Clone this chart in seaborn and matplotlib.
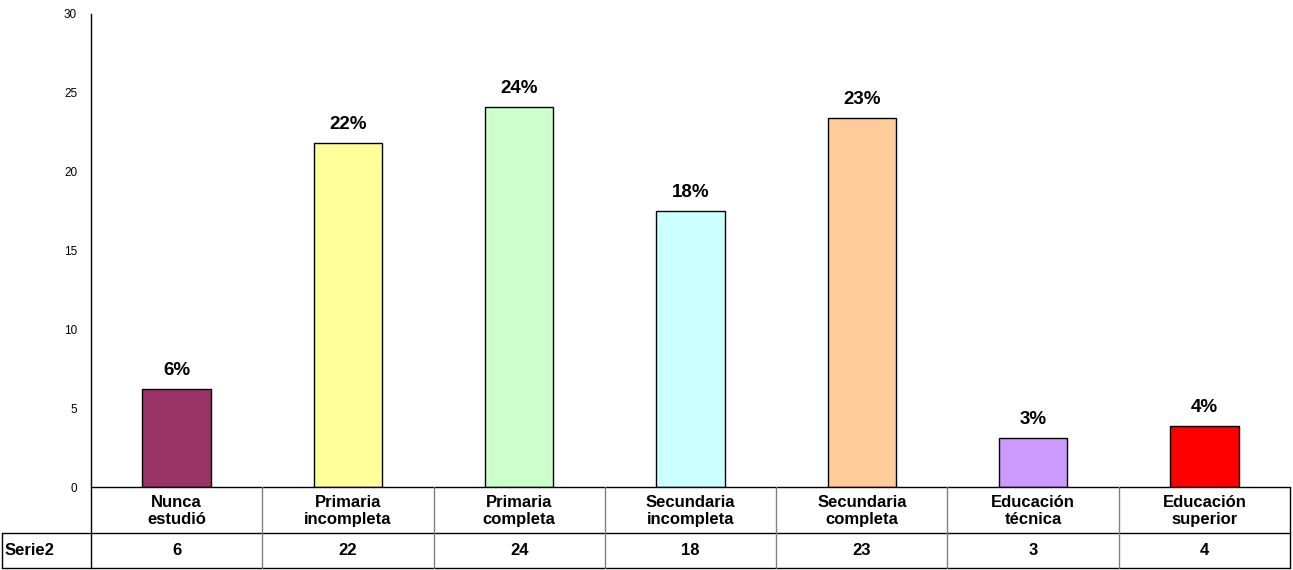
import matplotlib
matplotlib.use("Agg")
import matplotlib.pyplot as plt
import seaborn as sns
import pandas as pd
from matplotlib.lines import Line2D

categories = ["Nunca\nestudió", "Primaria\nincompleta", "Primaria\ncompleta",
              "Secundaria\nincompleta", "Secundaria\ncompleta",
              "Educación\ntécnica", "Educación\nsuperior"]
values = [6.2, 21.8, 24.1, 17.5, 23.4, 3.1, 3.9]
pct_labels = ["6%", "22%", "24%", "18%", "23%", "3%", "4%"]
table_values = ["6", "22", "24", "18", "23", "3", "4"]
series_name = "Serie2"
colors = ["#993366", "#FFFF99", "#CCFFCC", "#CCFFFF", "#FFCC99", "#CC99FF", "#FF0000"]
yticks = [0, 5, 10, 15, 20, 25, 30]

sns.set_style("white")
plt.rcParams['font.family'] = ['Liberation Sans', 'DejaVu Sans']
plt.rcParams['text.color'] = 'black'
plt.rcParams['ytick.color'] = 'black'

W, H = 1293, 570
fig = plt.figure(figsize=(W / 100, H / 100), dpi=100)
left, right, bottom, top = 91, 1290, 487, 14
ax = fig.add_axes([left / W, (H - bottom) / H, (right - left) / W, (bottom - top) / H])

df = pd.DataFrame({"cat": categories, "val": values})
sns.barplot(data=df, x="cat", y="val", hue="cat", palette=colors, legend=False,
            width=0.4, edgecolor="black", linewidth=1.0, ax=ax, saturation=1)

ax.set_xlim(-0.5, len(categories) - 0.5)
ax.set_ylim(0, 30)
ax.set_yticks(yticks)
ax.set_yticklabels([str(t) for t in yticks], fontsize=8.5)
ax.set_xticks([])
ax.set_xlabel("")
ax.set_ylabel("")
for s in ["top", "right", "bottom"]:
    ax.spines[s].set_visible(False)
ax.spines["left"].set_linewidth(1.0)
ax.spines["left"].set_color("black")
ax.tick_params(axis="y", direction="out", length=4, width=1, color="black",
               labelcolor="black", pad=6)

for i, (v, lab) in enumerate(zip(values, pct_labels)):
    ax.annotate(lab, (i, v), xytext=(0, 10), textcoords="offset points",
                ha="center", va="baseline", fontsize=13.5, fontweight="bold")

# data table below the axes (pixel coords)
def fx(px):
    return px / W

def fy(py):
    return (H - py) / H

row1_top, row1_bot, row2_bot = 487, 533, 568
col_w = (right - left) / len(categories)
tl = []
tl.append(Line2D([fx(left), fx(right)], [fy(row1_top), fy(row1_top)], color="black", lw=1))
tl.append(Line2D([fx(2), fx(right)], [fy(row1_bot), fy(row1_bot)], color="black", lw=1))
tl.append(Line2D([fx(2), fx(right)], [fy(row2_bot), fy(row2_bot)], color="black", lw=1))
tl.append(Line2D([fx(2), fx(2)], [fy(row1_bot), fy(row2_bot)], color="black", lw=1))
tl.append(Line2D([fx(left), fx(left)], [fy(row1_top), fy(row2_bot)], color="black", lw=1))
for k in range(1, len(categories) + 1):
    xk = left + k * col_w
    tl.append(Line2D([fx(xk), fx(xk)], [fy(row1_top), fy(row2_bot)],
                     color="#808080" if k < len(categories) else "black", lw=1))
for ln in tl:
    fig.add_artist(ln)

for i, (c, tv) in enumerate(zip(categories, table_values)):
    cx = left + (i + 0.5) * col_w
    fig.text(fx(cx), fy((row1_top + row1_bot) / 2 + 1), c, ha="center", va="center",
             fontsize=12, fontweight="bold", linespacing=1.2)
    fig.text(fx(cx), fy((row1_bot + row2_bot) / 2), tv, ha="center", va="center",
             fontsize=12, fontweight="bold")
fig.text(fx(5), fy((row1_bot + row2_bot) / 2), series_name, ha="left", va="center",
         fontsize=12, fontweight="bold")

fig.savefig("out.png", dpi=100)
